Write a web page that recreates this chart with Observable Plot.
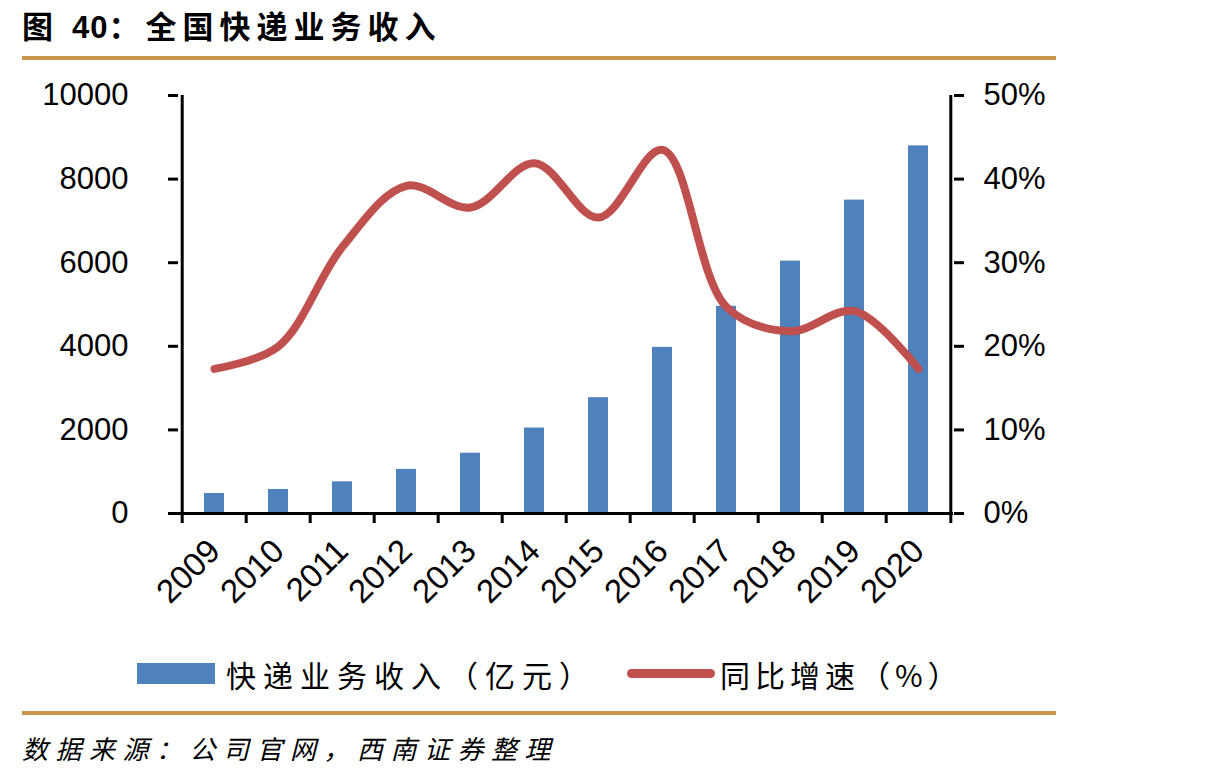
<!DOCTYPE html>
<html><head><meta charset="utf-8">
<script src="https://cdn.jsdelivr.net/npm/d3@7"></script>
<script src="https://cdn.jsdelivr.net/npm/@observablehq/plot@0.6"></script>
<style>
body{margin:0;background:#fff;width:1210px;height:780px;position:relative;overflow:hidden;font-family:"Noto Sans CJK SC",sans-serif;color:#000;}
#title{position:absolute;left:22px;top:2px;font-size:31px;font-weight:bold;letter-spacing:6px;line-height:46px;white-space:nowrap;}
#title .num{letter-spacing:1px;font-family:"Liberation Sans",Arial,sans-serif;}
.rule{position:absolute;left:22px;width:1034px;height:4px;background:#C9974C;}
#chart{position:absolute;left:0;top:70px;}
#chart g[aria-label$="tick"], #chart g[aria-label$="tick"] path{stroke-width:3px !important;stroke:#000 !important;}
.leg{position:absolute;font-size:30px;line-height:40px;white-space:nowrap;}
#source{position:absolute;left:22px;top:728px;font-size:26px;font-style:italic;letter-spacing:7.5px;line-height:40px;white-space:nowrap;}
</style></head>
<body>
<div id="title">图 <span class="num">40</span>：全国快递业务收入</div>
<div class="rule" style="top:56px"></div>
<div id="chart"></div>
<div style="position:absolute;left:137px;top:663px;width:78px;height:21px;background:#4F81BD"></div>
<div class="leg" style="left:226px;top:654px;letter-spacing:7px">快递业务收入（亿元）</div>
<div style="position:absolute;left:627px;top:669px;width:88px;height:9px;border-radius:5px;background:#C0504D"></div>
<div class="leg" style="left:720px;top:654px;letter-spacing:5px">同比增速（%）</div>
<div class="rule" style="top:711px"></div>
<div id="source">数据来源：公司官网，西南证券整理</div>
<script>
const years = ["2009","2010","2011","2012","2013","2014","2015","2016","2017","2018","2019","2020"];
const revenue = [479, 575, 758, 1055, 1442, 2045, 2770, 3974, 4957, 6038, 7497, 8795];
const growth = [17.3, 20.0, 31.9, 39.2, 36.6, 41.9, 35.4, 43.5, 24.7, 21.8, 24.2, 17.3];
const leftTicks = [0, 2000, 4000, 6000, 8000, 10000];
const rightTicks = [0, 10, 20, 30, 40, 50];

const data = years.map((year, i) => ({year, revenue: revenue[i], growth: growth[i] * 200}));
const W = 1210, H = 560, mL = 178, mR = 257, mT = 25, mB = 117;
const bw = (W - mL - mR) / years.length;

const chart = Plot.plot({
  width: W, height: H,
  marginTop: mT, marginBottom: mB, marginLeft: mL, marginRight: mR,
  x: {type: "band", domain: years, padding: 0},
  y: {domain: [0, 10000]},
  style: {fontFamily: "'Liberation Sans', Arial, sans-serif", fontSize: "31px", color: "#000", background: "#fff"},
  marks: [
    Plot.barY(data, {x: "year", y: "revenue", fill: "#4F81BD", insetLeft: 22, insetRight: 22}),
    Plot.line(data, {x: "year", y: "growth", stroke: "#C0504D", strokeWidth: 8, curve: "catmull-rom", strokeLinecap: "round", strokeLinejoin: "round"}),
    Plot.ruleY([0], {stroke: "#000", strokeWidth: 3}),
    Plot.ruleX([years[0]], {dx: -bw / 2, y1: 0, y2: 10000, stroke: "#000", strokeWidth: 3}),
    Plot.ruleX([years[years.length - 1]], {dx: bw / 2, y1: 0, y2: 10000, stroke: "#000", strokeWidth: 3}),
    Plot.axisY({anchor: "left", ticks: leftTicks, tickFormat: d => String(d), tickSize: 10, tickPadding: 40, strokeWidth: 3, fontSize: 31, label: null}),
    Plot.axisY({anchor: "right", ticks: rightTicks.map(v => v * 200), tickFormat: d => (d / 200) + "%", tickSize: 10, tickPadding: 20, strokeWidth: 3, fontSize: 31, label: null}),
    Plot.axisX({anchor: "bottom", tickSize: 10, tickFormat: () => "", dx: -bw / 2, strokeWidth: 3, label: null}),
    Plot.axisX({anchor: "bottom", ticks: [years[years.length - 1]], tickSize: 10, tickFormat: () => "", dx: bw / 2, strokeWidth: 3, label: null}),
    Plot.axisX({anchor: "bottom", tickSize: 0, tickRotate: -45, tickPadding: 32, fontSize: 33, label: null})
  ]
});
document.getElementById("chart").appendChild(chart);
</script>
</body></html>
